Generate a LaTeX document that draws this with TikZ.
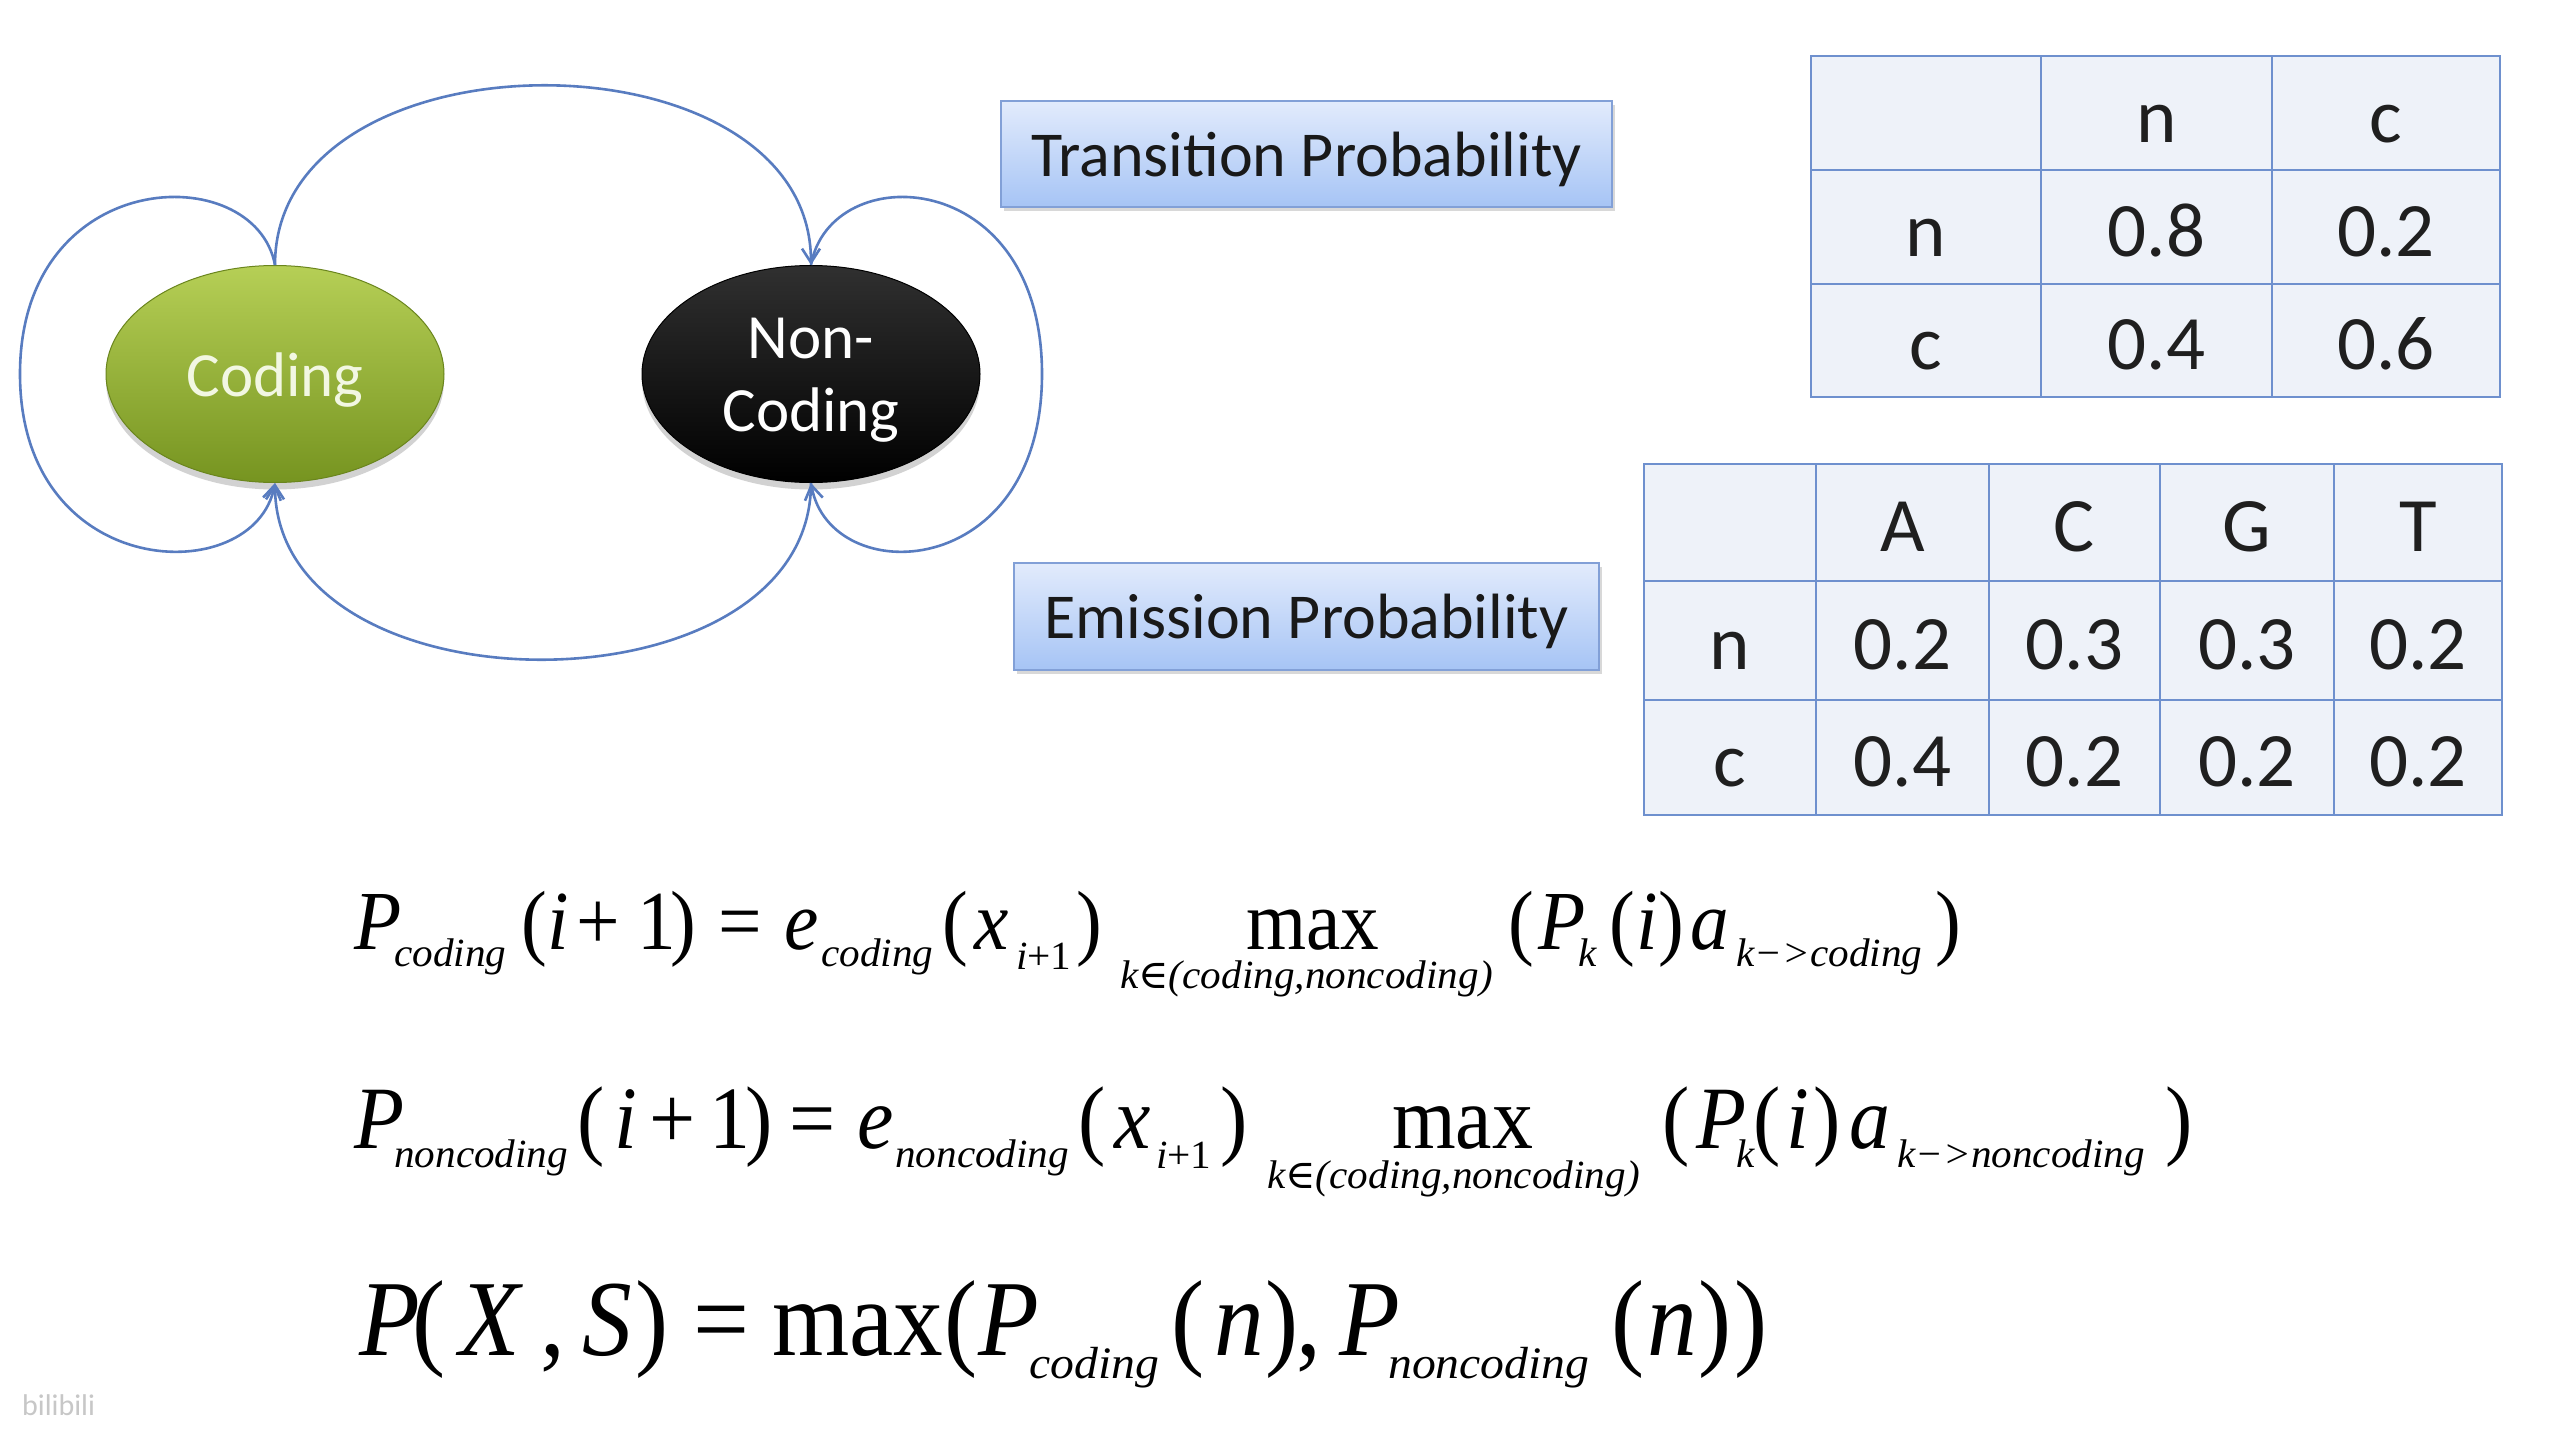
\documentclass[tikz,border=0pt]{standalone}
\usepackage{fontspec}
\usepackage{graphicx}
\setmainfont{Carlito}
\newfontfamily\tnr{Liberation Serif}
\newfontfamily\djs{DejaVu Serif}
\usetikzlibrary{arrows.meta,shapes.geometric,shadows}
\definecolor{arcblue}{RGB}{88,124,192}
\definecolor{codtop}{RGB}{182,207,86}
\definecolor{codbot}{RGB}{118,148,32}
\definecolor{codtext}{RGB}{242,247,226}
\definecolor{nctop}{RGB}{48,48,48}
\definecolor{ncbot}{RGB}{0,0,0}
\definecolor{boxtop}{RGB}{226,235,252}
\definecolor{boxbot}{RGB}{166,196,245}
\definecolor{boxline}{RGB}{130,160,215}
\definecolor{tblfill}{RGB}{238,242,249}
\definecolor{tblline}{RGB}{110,144,206}
\newcommand\fsz[1]{\fontsize{#1}{#1}\selectfont}
% formula parameters: main size, main x-scale, sub size, sub x-scale
\newcommand\setF[4]{\def\fMs{#1}\def\fMx{#2}\def\fSs{#3}\def\fSx{#4}}
% main-size piece at x offset
\newcommand\pcM[2]{\rlap{\hspace*{#1pt}\scalebox{\fMx}[1]{\fsz{\fMs}#2}}}
% subscript piece at x offset, lowered
\newcommand\pcS[3]{\rlap{\hspace*{#1pt}\raisebox{-#2pt}{\scalebox{\fSx}[1]{\fsz{\fSs}\itshape #3}}}}
\tikzset{
 arcline/.style={draw=arcblue, line width=2.6pt},
 arrowend/.style={-{Straight Barb[length=14pt,width=18pt]}},
 statenode/.style={ellipse, minimum width=338pt, minimum height=217pt, inner sep=0pt,
   drop shadow={opacity=0.35, shadow xshift=0pt, shadow yshift=-7pt}},
 statetext/.style={inner sep=0pt, align=center, font=\fontsize{63}{73}\selectfont},
 probbox/.style={rectangle, draw=boxline, line width=2.5pt, top color=boxtop, bottom color=boxbot,
   inner sep=0pt, font=\fsz{64}, text=black!90, text height=50pt, text depth=6pt,
   drop shadow={opacity=0.3, shadow xshift=3pt, shadow yshift=-4pt}},
 tline/.style={draw=tblline, line width=2.8pt},
 celltext/.style={font=\fsz{77}, text=black!88, inner sep=0pt, anchor=base},
 formula/.style={anchor=base west, inner sep=0pt, text=black, font=\tnr},
}
\begin{document}
\begin{tikzpicture}[x=1pt,y=-1pt]
\useasboundingbox (0,0) rectangle (2560,1440);
\fill[white] (0,0) rectangle (2560,1440);

% state nodes
\node[statenode, draw=codbot!90!black, line width=1pt, top color=codtop, bottom color=codbot]
  (coding) at (275,374) {};
\node[statenode, draw=black, line width=1pt, top color=nctop, bottom color=ncbot]
  (noncoding) at (811,374) {};
\node[statetext, text=codtext] (codinglbl) at (275,380) {Coding};
\node[statetext, text=white] (noncodinglbl) at (811,380) {Non-\\Coding};

\coordinate (lleft) at (20,374);
\coordinate (rright) at (1042,374);

% transitions
\draw[arcline, arrowend] (coding.north) .. controls +(0,-239) and +(0,-239) .. (noncoding.north);
\draw[arcline, arrowend] (noncoding.south) .. controls +(0,235) and +(0,235) .. (coding.south);
\draw[arcline, arrowend] (coding.north) .. controls (255,158) and (20,165) .. (lleft)
   .. controls (20,583) and (255,590) .. (coding.south);
\draw[arcline, arrowend] (noncoding.north) .. controls (830,158) and (1042,165) .. (rright)
   .. controls (1042,583) and (830,590) .. (noncoding.south);

% labels
\node[probbox, minimum width=611pt, minimum height=106pt] (transbox) at (1306.5,154) {Transition Probability};
\node[probbox, minimum width=585pt, minimum height=107pt] (emisbox) at (1306.5,616.5) {Emission Probability};

% transition table
\draw[tline, fill=tblfill] (1811,56) rectangle (2500,397);
\foreach \x in {2041,2272} \draw[tline] (\x,56) -- (\x,397);
\foreach \y in {170,284} \draw[tline] (1811,\y) -- (2500,\y);
\foreach \x/\y/\t/\n in {2156.5/113/n/th1, 2386/113/c/th2,
   1926/227/n/tr1, 2156.5/227/0.8/tnn, 2386/227/0.2/tnc,
   1926/340.5/c/tr2, 2156.5/340.5/0.4/tcn, 2386/340.5/0.6/tcc}
  \node[celltext] (\n) at (\x,\y+29) {\t};

% emission table
\draw[tline, fill=tblfill] (1644,464) rectangle (2502,815);
\foreach \x in {1816,1989,2160,2334} \draw[tline] (\x,464) -- (\x,815);
\foreach \y in {581,700} \draw[tline] (1644,\y) -- (2502,\y);
\foreach \x/\y/\t/\n in {1902.5/522.5/A/eh1, 2074.5/522.5/C/eh2, 2247/522.5/G/eh3, 2418/522.5/T/eh4,
   1730/640.5/n/er1, 1902.5/640.5/0.2/enA, 2074.5/640.5/0.3/enC, 2247/640.5/0.3/enG, 2418/640.5/0.2/enT,
   1730/757.5/c/er2, 1902.5/757.5/0.4/ecA, 2074.5/757.5/0.2/ecC, 2247/757.5/0.2/ecG, 2418/757.5/0.2/ecT}
  \node[celltext] (\n) at (\x,\y+29) {\t};

% formulas
\node[formula] (f1) at (354,949) {\setF{84}{0.92}{40}{1.03}%
\pcM{0}{\itshape P}\pcS{40}{17}{coding}\pcM{167}{(}\pcM{193}{\itshape i}\pcM{222}{+}\pcM{283}{1}\pcM{316}{)}\pcM{364}{=}%
\pcM{430}{\itshape e}\pcS{467}{17}{coding}\pcM{588}{(}\pcM{620}{\itshape x}\pcS{662}{20}{i\upshape +1}\pcM{722}{)}%
\pcM{892}{max}\pcS{766}{39}{k{\djs ∈}(coding,noncoding)}%
\pcM{1154}{(}\pcM{1184}{\itshape P}\pcS{1224}{17}{k}\pcM{1255}{(}\pcM{1282}{\itshape i}\pcM{1304}{)}\pcM{1336}{\itshape a}\pcS{1382}{17}{k−>coding}\pcM{1581}{)}%
\hspace*{1610pt}};

\node[formula] (f2) at (354,1148) {\setF{89}{0.92}{40}{1.03}%
\pcM{0}{\itshape P}\pcS{40}{19}{noncoding}\pcM{223}{(}\pcM{260}{\itshape i}\pcM{295}{+}\pcM{355}{1}\pcM{391}{)}\pcM{435}{=}%
\pcM{503}{\itshape e}\pcS{541}{19}{noncoding}\pcM{724}{(}\pcM{760}{\itshape x}\pcS{802}{20}{i\upshape +1}\pcM{866}{)}%
\pcM{1038}{max}\pcS{913}{40}{k{\djs ∈}(coding,noncoding)}%
\pcM{1308}{(}\pcM{1342}{\itshape P}\pcS{1382}{19}{k}\pcM{1399}{(}\pcM{1432}{\itshape i}\pcM{1459}{)}\pcM{1495}{\itshape a}\pcS{1543}{19}{k−>noncoding}\pcM{1811}{)}%
\hspace*{1840pt}};

\node[formula] (f3) at (354,1355) {\setF{108}{0.92}{45}{1.06}%
\pcM{5}{\itshape P}\pcM{58}{(}\pcM{105}{\itshape X}\pcM{186}{,}\pcM{228}{\itshape S}\pcM{281}{)}\pcM{339}{=}%
\pcM{418}{max}\pcM{590}{(}\pcM{624}{\itshape P}\pcS{675}{23}{coding}\pcM{817}{(}\pcM{860}{\itshape n}\pcM{911}{)}\pcM{942}{,}%
\pcM{985}{\itshape P}\pcS{1034}{23}{noncoding}\pcM{1257}{(}\pcM{1293}{\itshape n}\pcM{1344}{)}\pcM{1380}{)}%
\hspace*{1415pt}};

% watermark
\node[font=\fsz{30}, text=black!22, anchor=west, inner sep=0pt] (wm) at (22,1405) {bilibili};
\end{tikzpicture}
\end{document}
